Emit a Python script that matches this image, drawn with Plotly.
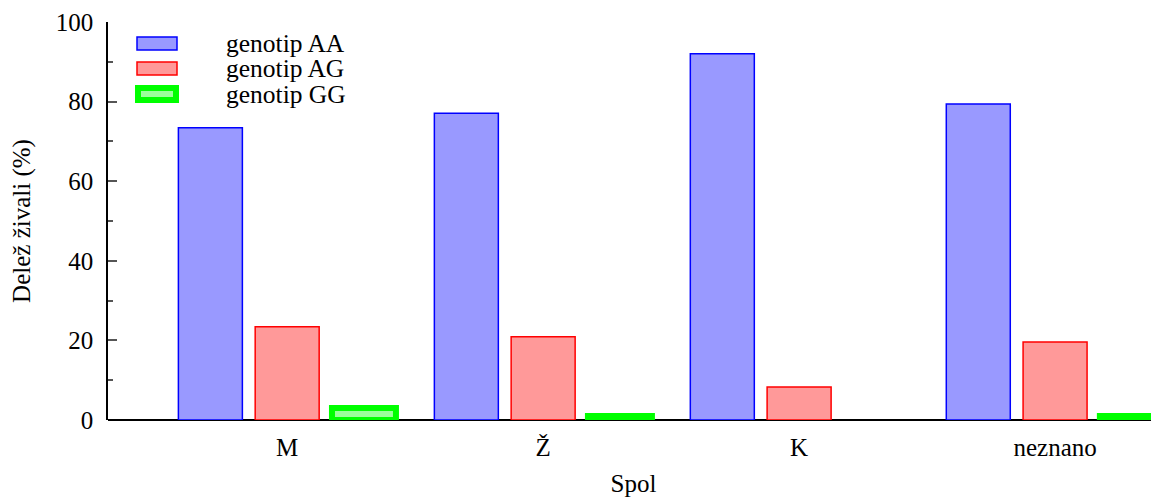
import plotly.graph_objects as go

categories = ["M", "Ž", "K", "neznano"]
series_names = ["genotip AA", "genotip AG", "genotip GG"]
aa_values = [73.4, 77.1, 92.0, 79.4]
ag_values = [23.4, 20.9, 8.3, 19.6]
gg_values = [3.0, 1.0, 0.0, 1.0]
y_ticks = [0, 20, 40, 60, 80, 100]

fills = ["#9999ff", "#ff9999", "#99ff99"]
edges = ["#0000ff", "#ff0000", "#00ff00"]
edge_w = [1.5, 1.5, 6]
offsets = [-0.30, 0.0, 0.30]

# page body has an 8px default margin; compensate so the plot lands where the reference has it
OFF = 8
W, H = 1159 - OFF, 497 - OFF
L, R, T, B = 108 - OFF, 0, 22 - OFF, 77
FONT = "Liberation Serif, Times New Roman, serif"

fig = go.Figure()
xpos = list(range(len(categories)))
for name, vals, fc, ec, lw, off in zip(series_names, [aa_values, ag_values, gg_values], fills, edges, edge_w, offsets):
    # no outline on empty (zero-height) bars
    widths = [lw if v > 0 else 0 for v in vals]
    fig.add_trace(go.Bar(
        x=[p + off for p in xpos], y=vals, width=0.25, name=name,
        marker=dict(color=fc, line=dict(color=ec, width=widths)),
        showlegend=False,
    ))

# custom legend (placement given in screen pixels)
pw, ph = W - L - R, H - T - B
def px(x):
    return (x - OFF - L) / pw
def py(y):
    return (H - B - (y - OFF)) / ph

leg_rows = [(37, 50), (62, 75), (88, 100)]
for name, fc, ec, lw, (y0, y1) in zip(series_names, fills, edges, edge_w, leg_rows):
    x0, x1 = (137, 177) if lw < 3 else (138, 176)
    fig.add_shape(type="rect", xref="paper", yref="paper",
                  x0=px(x0), x1=px(x1), y0=py(y1), y1=py(y0),
                  fillcolor=fc, line=dict(color=ec, width=lw))
    fig.add_annotation(xref="paper", yref="paper", x=px(224), y=py((y0 + y1) / 2),
                       text=name, showarrow=False, xanchor="left", yanchor="middle",
                       font=dict(family=FONT, size=25.5, color="black"))

fig.update_layout(
    width=W, height=H,
    margin=dict(l=L, r=R, t=T, b=B, pad=0, autoexpand=False),
    paper_bgcolor="white", plot_bgcolor="white",
    barmode="overlay",
    font=dict(family=FONT, size=25, color="black"),
    xaxis=dict(
        range=[-0.70, 3.406], automargin=False,
        tickvals=xpos, ticktext=categories,
        showgrid=False, zeroline=False, showline=False, ticks="",
        tickfont=dict(size=25), ticklabelstandoff=10,
        title=dict(text="Spol", font=dict(size=25), standoff=14),
    ),
    yaxis=dict(
        range=[0, 100], tickvals=y_ticks, automargin=False,
        showgrid=False, zeroline=True, zerolinecolor="black", zerolinewidth=2,
        showline=True, linecolor="black", linewidth=1.5,
        ticks="inside", ticklen=9, tickwidth=1.5, tickcolor="#555555",
        minor=dict(ticks="inside", ticklen=5, tickwidth=1.5, tickcolor="#555555", dtick=10),
        tickfont=dict(size=25), ticklabelstandoff=8,
        title=dict(text="Delež živali (%)", font=dict(size=25), standoff=18),
    ),
)

fig.write_html("out.html")
